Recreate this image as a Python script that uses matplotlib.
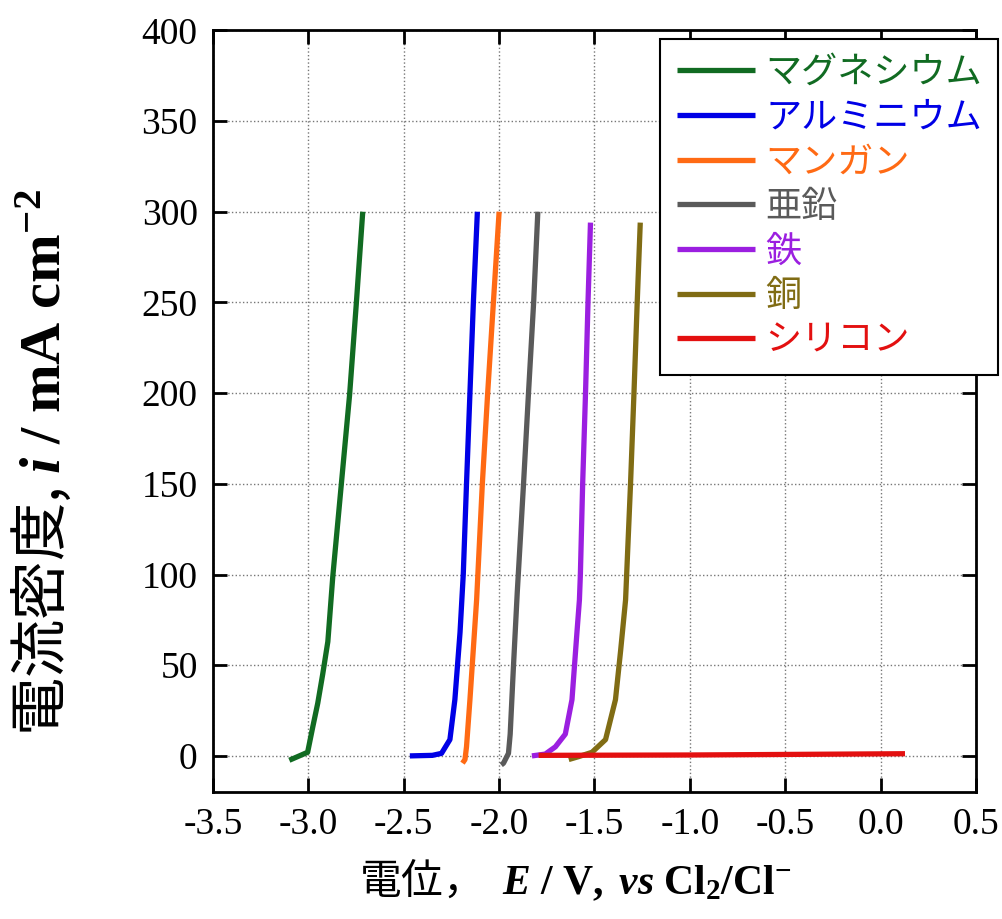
import matplotlib
matplotlib.use("Agg")
import matplotlib.pyplot as plt
import numpy as np

plt.rcParams['font.family'] = ['Liberation Serif', 'Noto Sans CJK JP']
plt.rcParams['axes.unicode_minus'] = False
plt.rcParams['mathtext.fontset'] = 'custom'
plt.rcParams['mathtext.rm'] = 'Liberation Serif'
plt.rcParams['mathtext.it'] = 'Liberation Serif:italic'
plt.rcParams['mathtext.bf'] = 'Liberation Serif:bold'
plt.rcParams['mathtext.bfit'] = 'Liberation Serif:italic:bold'

# 読み取った分極曲線 (E / V, i / mA cm-2)
names = ['マグネシウム', 'アルミニウム', 'マンガン', '亜鉛', '鉄', '銅', 'シリコン']
colors = ['#116b22', '#0000e6', '#ff6a14', '#5a5a5a', '#9b1fe0', '#806c14', '#e31010']

mg_E = [-3.10, -3.004, -2.977, -2.951, -2.925, -2.898, -2.872, -2.828, -2.784, -2.749, -2.715]
mg_i = [-2.4, 2, 16, 29, 45, 63, 99, 149, 199, 249, 300]
al_E = [-2.468, -2.35, -2.302, -2.258, -2.232, -2.205, -2.188, -2.171, -2.153, -2.135, -2.114]
al_i = [0, 0.3, 1.4, 9, 31, 68, 100, 150, 200, 250, 300]
mn_E = [-2.192, -2.179, -2.171, -2.153, -2.118, -2.088, -2.060, -2.030, -2.0]
mn_i = [-4, -2, 5, 31, 86, 150, 200, 250, 300]
zn_E = [-1.989, -1.977, -1.951, -1.942, -1.925, -1.905, -1.872, -1.846, -1.819, -1.797]
zn_i = [-5, -4, 1.4, 12, 49, 90, 150, 200, 250, 300]
fe_E = [-1.828, -1.758, -1.705, -1.653, -1.618, -1.592, -1.579, -1.574, -1.562, -1.547, -1.534, -1.521]
fe_i = [0, 1, 5, 12, 31, 68, 86, 100, 150, 200, 250, 294]
cu_E = [-1.635, -1.583, -1.513, -1.442, -1.390, -1.363, -1.337, -1.311, -1.293, -1.276, -1.260]
cu_i = [-2, -0.4, 2, 9, 31, 58, 86, 150, 200, 250, 294]
si_E = [-1.793, -1.0, -0.5, 0.128]
si_i = [0.3, 0.5, 0.8, 1.2]

series = [(mg_E, mg_i), (al_E, al_i), (mn_E, mn_i), (zn_E, zn_i),
          (fe_E, fe_i), (cu_E, cu_i), (si_E, si_i)]

fig = plt.figure(figsize=(10.02, 9.19), dpi=100)
ax = fig.add_axes([0.2126, 0.138, 0.7614, 0.829])

for (E, i), name, c in zip(series, names, colors):
    ax.plot(E, i, color=c, lw=3.8, label=name, solid_capstyle='butt')

ax.set_xlim(-3.5, 0.5)
ax.set_ylim(-20, 400)
ax.set_xticks(np.arange(-3.5, 0.51, 0.5))
ax.set_xticklabels([f"{v:.1f}" for v in np.arange(-3.5, 0.51, 0.5)])
ax.set_yticks(np.arange(0, 401, 50))
ax.grid(True, color='#777777', ls=':', lw=1.0)
ax.tick_params(direction='in', length=10, width=2, top=True, right=True,
               labelsize=27, pad=11)
for s in ax.spines.values():
    s.set_linewidth(2)

ax.set_xlabel(r"電位，  $\mathbfit{E}\mathbf{\ /\ V,\ }\mathbfit{vs}\mathbf{\ Cl_2/Cl^{-}}$",
              fontsize=30, family='Noto Sans CJK JP')
ax.xaxis.set_label_coords(0.475, -0.085)
ax.set_ylabel(r"電流密度, $\mathbfit{i}\mathbf{\ /\ mA\ cm^{-2}}$",
              fontsize=42, family='Noto Sans CJK JP')
ax.yaxis.set_label_coords(-0.183, 0.433)

leg = ax.legend(loc='upper right', bbox_to_anchor=(0.996, 0.958),
                bbox_transform=fig.transFigure, borderaxespad=0,
                fancybox=False, framealpha=1, edgecolor='black',
                prop={'family': 'Noto Sans CJK JP', 'size': 26},
                handlelength=2.16, handletextpad=0.29, labelspacing=0.24,
                borderpad=0.45)
leg.get_frame().set_linewidth(1.5)
for t, c in zip(leg.get_texts(), colors):
    t.set_color(c)

fig.savefig("out.png", dpi=100)
